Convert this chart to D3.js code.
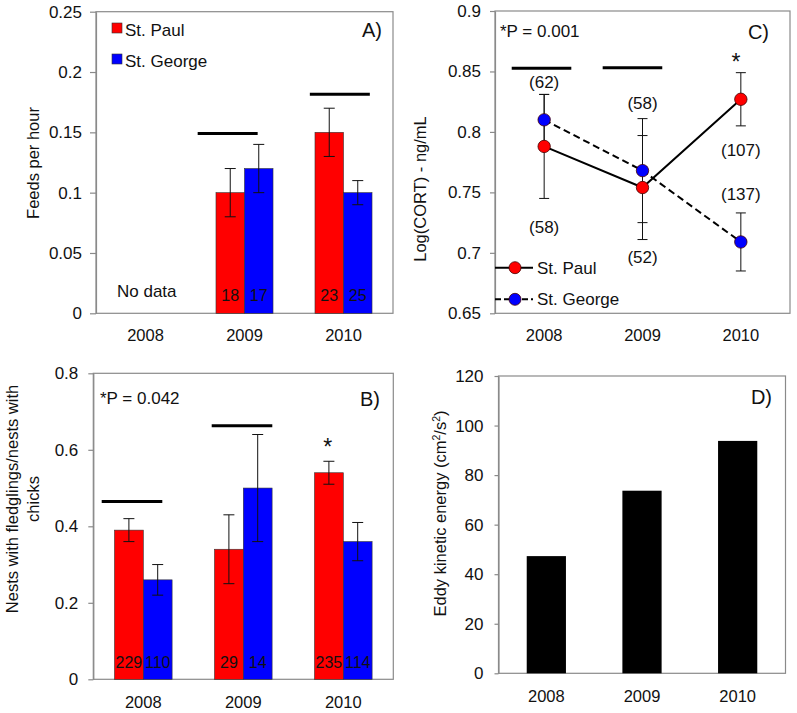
<!DOCTYPE html>
<html><head><meta charset="utf-8">
<script src="https://cdn.jsdelivr.net/npm/d3@7"></script>
<style>
body{margin:0;background:#fff;}
text{font-family:"Liberation Sans",Arial,sans-serif;fill:#111;}
</style></head>
<body>
<svg id="chart" width="797" height="713"></svg>
<script>
// ---------- DATA ----------
const years = ["2008", "2009", "2010"];
const seriesNames = ["St. Paul", "St. George"];

// Panel A: feeds per hour
const feedsPaul = [null, 0.10, 0.15];
const feedsPaulErr = [null, 0.02, 0.02];
const feedsGeorge = [null, 0.12, 0.10];
const feedsGeorgeErr = [null, 0.02, 0.01];
const feedsNPaul = [null, "18", "23"];
const feedsNGeorge = [null, "17", "25"];
const feedsTicks = [0, 0.05, 0.1, 0.15, 0.2, 0.25];

// Panel B: nests with fledglings / nests with chicks
const fledgePaul = [0.39, 0.34, 0.54];
const fledgePaulErr = [0.03, 0.09, 0.03];
const fledgeGeorge = [0.26, 0.50, 0.36];
const fledgeGeorgeErr = [0.04, 0.14, 0.05];
const fledgeNPaul = ["229", "29", "235"];
const fledgeNGeorge = ["110", "14", "114"];
const fledgeTicks = [0, 0.2, 0.4, 0.6, 0.8];

// Panel C: Log(CORT)
const cortPaul = [0.788, 0.754, 0.827];
const cortPaulErr = [0.043, 0.043, 0.022];
const cortGeorge = [0.810, 0.768, 0.709];
const cortGeorgeErr = [0.021, 0.043, 0.024];
const cortTicks = [0.65, 0.7, 0.75, 0.8, 0.85, 0.9];
const cortTickLabels = ["0.65", "0.7", "0.75", "0.8", "0.85", "0.9"];
const cortNotes = [
  {year: "2008", text: "(62)", v: 0.8415},
  {year: "2008", text: "(58)", v: 0.7216},
  {year: "2009", text: "(58)", v: 0.8242},
  {year: "2009", text: "(52)", v: 0.6968},
  {year: "2010", text: "(107)", v: 0.785},
  {year: "2010", text: "(137)", v: 0.7487}
];

// Panel D: eddy kinetic energy
const eke = [47.3, 73.7, 93.8];
const ekeTicks = [0, 20, 40, 60, 80, 100, 120];

// ---------- DRAWING ----------
const svg = d3.select("#chart");
const RED = "#ff0000", BLUE = "#0000ff", AXIS = "#8a8a8a";
const FS = 17, FT = 16.5, FL = 20;

function frame(p) {
  const g = svg.append("g");
  g.append("rect").attr("x", p.l).attr("y", p.t).attr("width", p.r - p.l).attr("height", p.b - p.t)
    .attr("fill", "none").attr("stroke", AXIS).attr("stroke-width", 1.2);
  return g;
}

function yAxis(g, p, y, ticks, labels, tickSize, pad) {
  const ax = d3.axisLeft(y).tickValues(ticks).tickSize(tickSize).tickPadding(pad).tickSizeOuter(0)
    .tickFormat((d, i) => labels ? labels[i] : String(d));
  const a = g.append("g").attr("transform", `translate(${p.l},0)`).call(ax);
  a.select(".domain").attr("stroke", AXIS).attr("stroke-width", 1.2);
  a.selectAll(".tick line").attr("stroke", AXIS).attr("stroke-width", 1.2);
  a.selectAll(".tick text").attr("font-size", FS).attr("font-family", "Liberation Sans, Arial, sans-serif").attr("fill", "#111");
}

function xLabels(g, x, baseline) {
  const ax = d3.axisBottom(x).tickSize(0).tickPadding(0);
  const a = g.append("g").attr("transform", `translate(0,${baseline})`).call(ax);
  a.select(".domain").remove();
  a.selectAll(".tick text").attr("font-size", FT).attr("font-family", "Liberation Sans, Arial, sans-serif")
    .attr("fill", "#111").attr("dy", 0).attr("y", 0);
}

function yTitle(g, lines, cx, cy, gap) {
  lines.forEach((t, i) => {
    const tx = g.append("text").attr("transform", `translate(${cx + i * gap},${cy}) rotate(-90)`)
      .attr("text-anchor", "middle").attr("font-size", FT).attr("dy", "0.35em");
    if (Array.isArray(t)) {
      t.forEach(s => {
        const ts = tx.append("tspan").text(s.t);
        if (s.sup) ts.attr("baseline-shift", "super").attr("font-size", 10.5);
      });
    } else tx.text(t);
  });
}

function errBar(g, cx, y, v, e, cap) {
  if (v == null) return;
  g.append("line").attr("x1", cx).attr("x2", cx).attr("y1", y(v - e)).attr("y2", y(v + e))
    .attr("stroke", "#111").attr("stroke-width", 1);
  [v - e, v + e].forEach(w => g.append("line").attr("x1", cx - cap / 2).attr("x2", cx + cap / 2)
    .attr("y1", y(w)).attr("y2", y(w)).attr("stroke", "#111").attr("stroke-width", 1));
}

function sigLine(g, x, year, frac, v, y) {
  const x0 = x(year) + frac * x.bandwidth();
  g.append("line").attr("x1", x0).attr("x2", x0 + 0.606 * x.bandwidth())
    .attr("y1", y(v)).attr("y2", y(v)).attr("stroke", "#000").attr("stroke-width", 3);
}

function groupedBars(g, p, x, y, paul, paulErr, george, georgeErr, nP, nG, nBase) {
  const inner = d3.scaleBand().domain(seriesNames).range([0, x.bandwidth() * 0.576]);
  const off = x.bandwidth() * (1 - 0.576) / 2;
  const sets = [[paul, paulErr, nP, RED], [george, georgeErr, nG, BLUE]];
  sets.forEach((s, si) => {
    years.forEach((yr, i) => {
      const v = s[0][i];
      if (v == null) return;
      const bx = x(yr) + off + inner(seriesNames[si]);
      g.append("rect").attr("x", bx).attr("y", y(v)).attr("width", inner.bandwidth()).attr("height", y(0) - y(v))
        .attr("fill", s[3]).attr("stroke", "#333").attr("stroke-width", 0.6);
    });
  });
  sets.forEach((s, si) => {
    years.forEach((yr, i) => {
      const v = s[0][i];
      if (v == null) return;
      const cx = x(yr) + off + inner(seriesNames[si]) + inner.bandwidth() / 2;
      errBar(g, cx, y, v, s[1][i], 11);
      g.append("text").attr("x", cx).attr("y", nBase).attr("text-anchor", "middle").attr("font-size", 16)
        .attr("fill", "#111").text(s[2][i]);
    });
  });
}

// ----- Panel A -----
{
  const p = {l: 96, r: 393, t: 11.7, b: 313.3};
  const g = frame(p);
  const x = d3.scaleBand().domain(years).range([p.l, p.r]).padding(0);
  const y = d3.scaleLinear().domain([0, 0.25]).range([p.b, p.t]);
  yAxis(g, p, y, feedsTicks, null, 6, 8);
  groupedBars(g, p, x, y, feedsPaul, feedsPaulErr, feedsGeorge, feedsGeorgeErr, feedsNPaul, feedsNGeorge, 301);
  sigLine(g, x, "2009", 0.027, 0.149, y);
  sigLine(g, x, "2010", 0.16, 0.1815, y);
  g.append("text").attr("x", 117).attr("y", 297).attr("font-size", FS).text("No data");
  g.append("text").attr("x", 382).attr("y", 37).attr("text-anchor", "end").attr("font-size", FL).text("A)");
  // legend
  [[RED, "St. Paul", 23], [BLUE, "St. George", 54]].forEach(([c, t, yy]) => {
    g.append("rect").attr("x", 112).attr("y", yy).attr("width", 10).attr("height", 10).attr("fill", c)
      .attr("stroke", "#333").attr("stroke-width", 0.6);
    g.append("text").attr("x", 125).attr("y", yy + 13).attr("font-size", FS).text(t);
  });
  xLabels(g, x, 341);
  yTitle(g, ["Feeds per hour"], 33, 163, 0);
}

// ----- Panel B -----
{
  const p = {l: 93.3, r: 393.3, t: 373.3, b: 679.3};
  const g = frame(p);
  const x = d3.scaleBand().domain(years).range([p.l, p.r]).padding(0);
  const y = d3.scaleLinear().domain([0, 0.8]).range([p.b, p.t]);
  yAxis(g, p, y, fledgeTicks, null, 5, 10);
  groupedBars(g, p, x, y, fledgePaul, fledgePaulErr, fledgeGeorge, fledgeGeorgeErr, fledgeNPaul, fledgeNGeorge, 668);
  sigLine(g, x, "2008", 0.084, 0.465, y);
  sigLine(g, x, "2009", 0.184, 0.663, y);
  g.append("text").attr("x", 327.7).attr("y", 455).attr("text-anchor", "middle").attr("font-size", 23).text("*");
  g.append("text").attr("x", 100).attr("y", 404).attr("font-size", FS).text("*P = 0.042");
  g.append("text").attr("x", 380).attr("y", 406).attr("text-anchor", "end").attr("font-size", FL).text("B)");
  xLabels(g, x, 708);
  yTitle(g, ["Nests with fledglings/nests with", "chicks"], 12, 499, 21.5);
}

// ----- Panel C -----
{
  const p = {l: 495, r: 790, t: 11, b: 313.3};
  const g = frame(p);
  const x = d3.scaleBand().domain(years).range([p.l, p.r]).padding(0);
  const cx = yr => x(yr) + x.bandwidth() / 2;
  const y = d3.scaleLinear().domain([0.65, 0.9]).range([p.b, p.t]);
  yAxis(g, p, y, cortTicks, cortTickLabels, 5, 9);
  const line = d3.line().x((d, i) => cx(years[i])).y(d => y(d));
  g.append("path").attr("d", line(cortPaul)).attr("fill", "none").attr("stroke", "#000").attr("stroke-width", 2);
  g.append("path").attr("d", line(cortGeorge)).attr("fill", "none").attr("stroke", "#000").attr("stroke-width", 2)
    .attr("stroke-dasharray", "7,4");
  years.forEach((yr, i) => {
    errBar(g, cx(yr), y, cortGeorge[i], cortGeorgeErr[i], 10);
    errBar(g, cx(yr), y, cortPaul[i], cortPaulErr[i], 10);
  });
  [[cortGeorge, BLUE], [cortPaul, RED]].forEach(([arr, c]) => {
    years.forEach((yr, i) => {
      g.append("circle").attr("cx", cx(yr)).attr("cy", y(arr[i])).attr("r", 6.2).attr("fill", c)
        .attr("stroke", "#400").attr("stroke-width", 0.8);
    });
  });
  cortNotes.forEach(n => {
    g.append("text").attr("x", cx(n.year)).attr("y", y(n.v)).attr("dy", "0.35em").attr("text-anchor", "middle")
      .attr("font-size", FS).text(n.text);
  });
  sigLine(g, x, "2008", 0.17, 0.8526, y);
  sigLine(g, x, "2009", 0.095, 0.853, y);
  g.append("text").attr("x", 736).attr("y", 70).attr("text-anchor", "middle").attr("font-size", 23).text("*");
  g.append("text").attr("x", 500).attr("y", 37).attr("font-size", FS).text("*P = 0.001");
  g.append("text").attr("x", 769).attr("y", 39).attr("text-anchor", "end").attr("font-size", FL).text("C)");
  // legend
  [[RED, "St. Paul", 267.7, null], [BLUE, "St. George", 299.3, "7,4"]].forEach(([c, t, yy, dash]) => {
    const l = g.append("line").attr("x1", p.l).attr("x2", 533).attr("y1", yy).attr("y2", yy)
      .attr("stroke", "#000").attr("stroke-width", 2);
    if (dash) l.attr("stroke-dasharray", "6,3");
    g.append("circle").attr("cx", 515).attr("cy", yy).attr("r", 6).attr("fill", c).attr("stroke", "#400").attr("stroke-width", 0.8);
    g.append("text").attr("x", 537).attr("y", yy + 6).attr("font-size", FS).text(t);
  });
  xLabels(g, x, 340.5);
  yTitle(g, ["Log(CORT) - ng/mL"], 420, 189, 0);
}

// ----- Panel D -----
{
  const p = {l: 498.5, r: 785.5, t: 376, b: 673.3};
  const g = frame(p);
  const x = d3.scaleBand().domain(years).range([p.l, p.r]).padding(0);
  const y = d3.scaleLinear().domain([0, 120]).range([p.b, p.t]);
  yAxis(g, p, y, ekeTicks, null, 4, 11);
  years.forEach((yr, i) => {
    const w = x.bandwidth() * 0.41;
    g.append("rect").attr("x", x(yr) + (x.bandwidth() - w) / 2).attr("y", y(eke[i])).attr("width", w)
      .attr("height", y(0) - y(eke[i])).attr("fill", "#000");
  });
  g.append("text").attr("x", 772).attr("y", 404).attr("text-anchor", "end").attr("font-size", FL).text("D)");
  xLabels(g, x, 702);
  yTitle(g, [[{t: "Eddy kinetic energy (cm"}, {t: "2", sup: true}, {t: "/s"}, {t: "2", sup: true}, {t: ")"}]], 440, 513.5, 0);
}
</script>
</body></html>
